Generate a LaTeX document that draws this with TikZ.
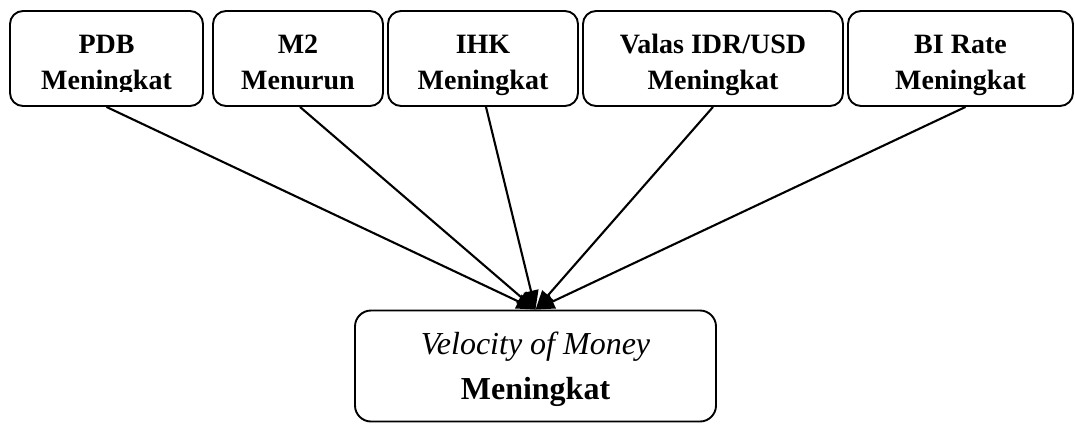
\documentclass[tikz,border=0pt]{standalone}
\usepackage{fontspec}
\setmainfont{Liberation Serif}
\usetikzlibrary{arrows.meta}
\begin{document}
\begin{tikzpicture}[x=1pt,y=-1pt,
  box/.style={draw, line width=1.9pt, rounded corners=13pt, inner sep=0pt},
  lbl/.style={font=\fontsize{28}{28}\selectfont\bfseries, anchor=base, inner sep=0pt},
  vlbl/.style={font=\fontsize{32}{32}\selectfont, anchor=base, inner sep=0pt},
  link/.style={line width=2.1pt, -{Triangle[length=19pt,width=15pt]}}]
\useasboundingbox (0,0) rectangle (1075,423);
% boxes
\node[box, minimum width=193pt, minimum height=95pt] (b1) at (106.5,58.5) {};
\node[box, minimum width=170pt, minimum height=95pt] (b2) at (298,58.5) {};
\node[box, minimum width=190pt, minimum height=95pt] (b3) at (483,58.5) {};
\node[box, minimum width=260pt, minimum height=95pt] (b4) at (713,58.5) {};
\node[box, minimum width=225pt, minimum height=95pt] (b5) at (960.5,58.5) {};
\node[box, rounded corners=16pt, minimum width=361pt, minimum height=111pt] (v) at (535.5,366) {};
% texts
\begin{scope}
\clip (10,11) rectangle (203,91);
\node[lbl] (t1a) at (106.5,53) {PDB};
\node[lbl] (t1b) at (106.5,89) {Meningkat};
\end{scope}
\node[lbl] (t2a) at (298,53) {M2};
\node[lbl] (t2b) at (298,89) {Menurun};
\node[lbl] (t3a) at (483,53) {IHK};
\node[lbl] (t3b) at (483,89) {Meningkat};
\node[lbl] (t4a) at (713,53) {Valas IDR/USD};
\node[lbl] (t4b) at (713,89) {Meningkat};
\node[lbl] (t5a) at (960.5,53) {BI Rate};
\node[lbl] (t5b) at (960.5,89) {Meningkat};
\node[vlbl, font=\fontsize{32}{32}\selectfont\itshape] (va) at (535.5,354) {Velocity of Money};
\node[vlbl, font=\fontsize{32}{32}\selectfont\bfseries] (vb) at (535.5,399) {Meningkat};
% connectors
\draw[link] (b1.south) -- (v.north);
\draw[link] ([xshift=2pt]b2.south) -- (v.north);
\draw[link] ([xshift=3pt]b3.south) -- (v.north);
\draw[link] (b4.south) -- (v.north);
\draw[link] ([xshift=5pt]b5.south) -- (v.north);
\end{tikzpicture}
\end{document}
